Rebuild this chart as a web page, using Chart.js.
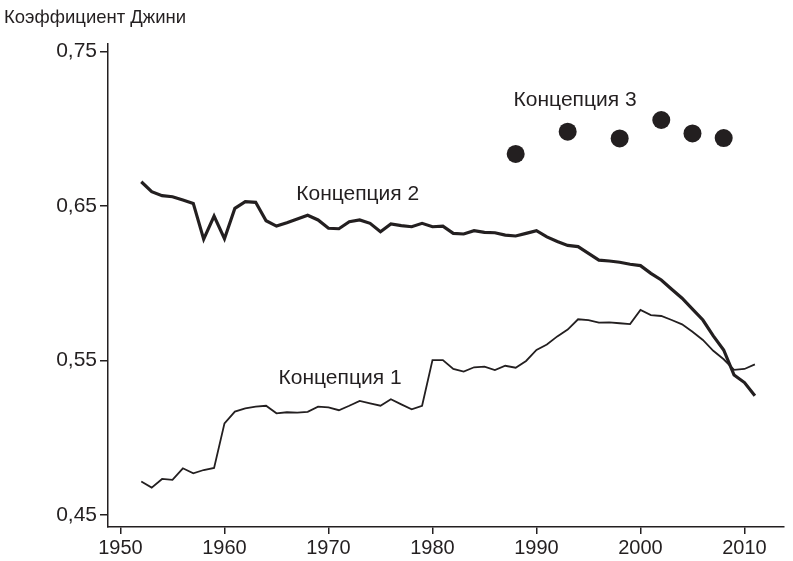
<!DOCTYPE html>
<html>
<head>
<meta charset="utf-8">
<script src="https://cdn.jsdelivr.net/npm/chart.js@4"></script>
<style>
  html, body { margin: 0; padding: 0; background: #fff; }
  #wrap { width: 793px; height: 561px; position: relative; }
</style>
</head>
<body>
<div id="wrap"><canvas id="chart"></canvas></div>
<script>
// data
const years = [
  1952, 1953, 1954, 1955, 1956, 1957, 1958, 1959, 1960, 1961,
  1962, 1963, 1964, 1965, 1966, 1967, 1968, 1969, 1970, 1971,
  1972, 1973, 1974, 1975, 1976, 1977, 1978, 1979, 1980, 1981,
  1982, 1983, 1984, 1985, 1986, 1987, 1988, 1989, 1990, 1991,
  1992, 1993, 1994, 1995, 1996, 1997, 1998, 1999, 2000, 2001,
  2002, 2003, 2004, 2005, 2006, 2007, 2008, 2009, 2010, 2011
];
const concept1 = [
  0.4716, 0.4677, 0.4733, 0.4727, 0.4802, 0.4770, 0.4791, 0.4804, 0.5093, 0.5169,
  0.5190, 0.5201, 0.5207, 0.5158, 0.5165, 0.5162, 0.5168, 0.5201, 0.5197, 0.5178,
  0.5207, 0.5238, 0.5223, 0.5207, 0.5249, 0.5216, 0.5184, 0.5207, 0.5503, 0.5503,
  0.5445, 0.5428, 0.5456, 0.5460, 0.5438, 0.5466, 0.5453, 0.5497, 0.5568, 0.5603,
  0.5656, 0.5700, 0.5767, 0.5762, 0.5745, 0.5747, 0.5741, 0.5736, 0.5827, 0.5794,
  0.5788, 0.5762, 0.5734, 0.5686, 0.5633, 0.5563, 0.5508, 0.5439, 0.5445, 0.5475
];
const concept2 = [
  0.6657, 0.6593, 0.6567, 0.6560, 0.6539, 0.6517, 0.6286, 0.6435, 0.6288, 0.6485,
  0.6528, 0.6524, 0.6405, 0.6370, 0.6392, 0.6416, 0.6440, 0.6410, 0.6356, 0.6353,
  0.6398, 0.6410, 0.6388, 0.6334, 0.6384, 0.6373, 0.6366, 0.6388, 0.6366, 0.6370,
  0.6323, 0.6319, 0.6340, 0.6330, 0.6327, 0.6312, 0.6306, 0.6323, 0.6340, 0.6300,
  0.6270, 0.6245, 0.6237, 0.6194, 0.6150, 0.6144, 0.6136, 0.6123, 0.6114, 0.6064,
  0.6021, 0.5961, 0.5903, 0.5833, 0.5762, 0.5659, 0.5568, 0.5406, 0.5357, 0.5272
];
const years3 = [1988, 1993, 1998, 2002, 2005, 2008];
const concept3 = [0.6837, 0.6981, 0.6938, 0.7057, 0.6970, 0.6940];

const xTicks = [1950, 1960, 1970, 1980, 1990, 2000, 2010];
const yTicks = [0.45, 0.55, 0.65, 0.75];

const seriesLabels = [
  {text: 'Концепция 1', x: 1965.2, y: 0.5387},
  {text: 'Концепция 2', x: 1966.9, y: 0.6575},
  {text: 'Концепция 3', x: 1987.8, y: 0.7186}
];
const yTitle = 'Коэффициент Джини';

const ink = '#231f20';
const font = '"Liberation Sans", Arial, sans-serif';

function toPoints(xs, ys){
  return xs.map((x, i) => ({x: x, y: ys[i]}));
}

const textPlugin = {
  id: 'textPlugin',
  afterDraw(chart){
    const ctx = chart.ctx;
    const xs = chart.scales.x;
    const ys = chart.scales.y;
    ctx.save();
    ctx.fillStyle = ink;
    ctx.font = '21px ' + font;
    ctx.textBaseline = 'middle';
    ctx.textAlign = 'left';
    seriesLabels.forEach(l => {
      ctx.fillText(l.text, xs.getPixelForValue(l.x), ys.getPixelForValue(l.y));
    });
    ctx.font = '18.5px ' + font;
    ctx.fillText(yTitle, 4, 18);
    ctx.restore();
  }
};

const ctx = document.getElementById('chart').getContext('2d');
const chart = new Chart(ctx, {
  type: 'line',
  data: {
    datasets: [
      {
        label: 'Концепция 1',
        data: toPoints(years, concept1),
        borderColor: ink,
        borderWidth: 1.8,
        pointRadius: 0,
        tension: 0,
        fill: false
      },
      {
        label: 'Концепция 2',
        data: toPoints(years, concept2),
        borderColor: ink,
        borderWidth: 3.2,
        pointRadius: 0,
        tension: 0,
        fill: false
      },
      {
        label: 'Концепция 3',
        data: toPoints(years3, concept3),
        showLine: false,
        pointRadius: 9,
        pointBackgroundColor: ink,
        pointBorderColor: ink,
        pointBorderWidth: 0
      }
    ]
  },
  options: {
    responsive: true,
    maintainAspectRatio: false,
    animation: false,
    layout: {padding: {top: 44, right: 0, left: 0, bottom: 0}},
    plugins: {
      legend: {display: false},
      tooltip: {enabled: false}
    },
    scales: {
      x: {
        type: 'linear',
        min: 1948.8,
        max: 2013.8,
        afterBuildTicks: axis => { axis.ticks = xTicks.map(v => ({value: v})); },
        afterFit: axis => { axis.height = 34; },
        border: {display: true, color: ink, width: 1.5},
        grid: {display: true, drawOnChartArea: false, drawTicks: true, tickLength: 7, color: ink, lineWidth: 1.5},
        ticks: {
          color: ink,
          font: {family: font, size: 20},
          padding: 2,
          maxRotation: 0,
          callback: v => String(v)
        }
      },
      y: {
        min: 0.4422,
        max: 0.7549,
        afterBuildTicks: axis => { axis.ticks = yTicks.map(v => ({value: v})); },
        afterFit: axis => { axis.width = 108; },
        border: {display: true, color: ink, width: 1.5},
        grid: {display: true, drawOnChartArea: false, drawTicks: true, tickLength: 8, color: ink, lineWidth: 1.5},
        ticks: {
          color: ink,
          font: {family: font, size: 21},
          padding: 3,
          callback: v => v.toFixed(2).replace('.', ',')
        }
      }
    }
  },
  plugins: [textPlugin]
});
</script>
</body>
</html>
